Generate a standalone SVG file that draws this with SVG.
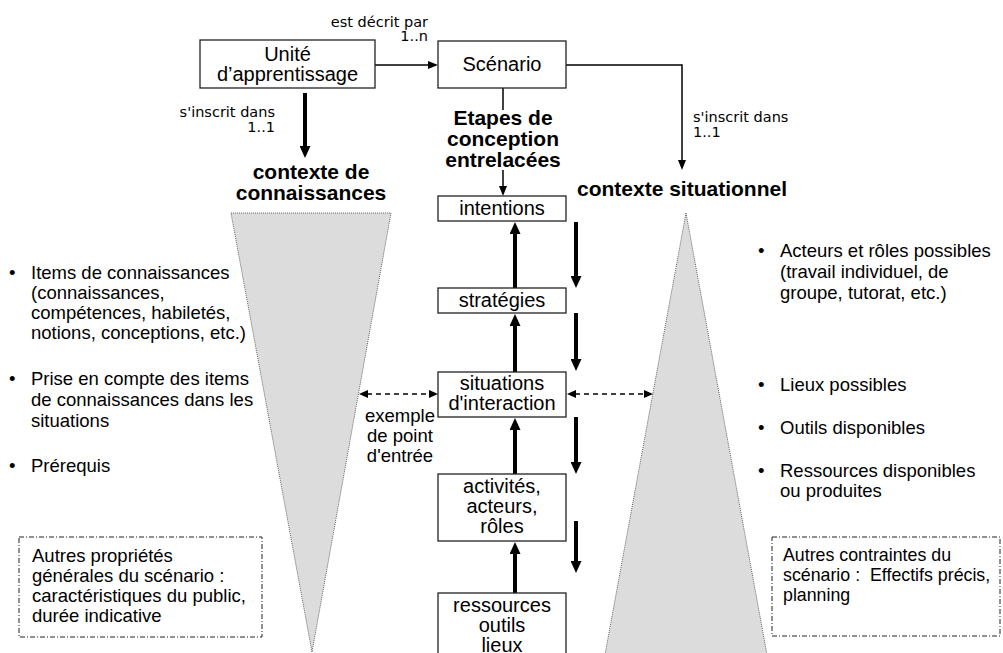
<svg xmlns="http://www.w3.org/2000/svg" width="1003" height="653" viewBox="0 0 1003 653">
<style>
  .box { fill: #ffffff; stroke: #222; stroke-width: 1.3; }
  .lbl { font-family: "Liberation Sans", Arial, sans-serif; font-size: 20px; fill: #000; text-anchor: middle; }
  .bold { font-family: "Liberation Sans", Arial, sans-serif; font-size: 21px; font-weight: bold; fill: #000; text-anchor: middle; }
  .small { font-family: "DejaVu Sans", Verdana, sans-serif; font-size: 14.5px; fill: #000; }
  .body { font-family: "Liberation Sans", Arial, sans-serif; font-size: 18.5px; fill: #000; }
  .body2 { font-family: "Liberation Sans", Arial, sans-serif; font-size: 17.8px; fill: #000; }
  .tri { fill: #dcdcdc; stroke: #666; stroke-width: 1; stroke-dasharray: 1 1; }
  .dd { fill: none; stroke: #222; stroke-width: 1; stroke-dasharray: 5 2 1 2; }
  .thin { fill: none; stroke: #000; stroke-width: 1.5; }
  .thick { fill: none; stroke: #000; stroke-width: 4; }
  .dash { fill: none; stroke: #000; stroke-width: 1.5; stroke-dasharray: 5 4; }
</style>
<defs>
  <marker id="ah" markerUnits="userSpaceOnUse" markerWidth="10" markerHeight="8" refX="1" refY="4" orient="auto">
    <path d="M0,0 L10,4 L0,8 z" fill="#000"/>
  </marker>
  <marker id="ahB" markerUnits="userSpaceOnUse" markerWidth="12" markerHeight="11" refX="2" refY="5.5" orient="auto">
    <path d="M0,0 L12,5.5 L0,11 z" fill="#000"/>
  </marker>
  <marker id="ahD" markerUnits="userSpaceOnUse" markerWidth="9" markerHeight="8" refX="1" refY="4" orient="auto-start-reverse">
    <path d="M0,0 L9,4 L0,8 z" fill="#000"/>
  </marker>
</defs>
<rect width="1003" height="653" fill="#ffffff"/>

<g id="contexte-connaissances">
  <polygon class="tri" points="231,213 391,213 312,652"/>
  <text class="bold" x="311" y="179">contexte de</text>
  <text class="bold" x="311" y="200">connaissances</text>
</g>

<g id="contexte-situationnel">
  <polygon class="tri" points="686,213 768,660 604,660"/>
  <text class="bold" x="682" y="196">contexte situationnel</text>
</g>

<g id="connectors">
  <line class="thin" x1="375" y1="65" x2="429" y2="65" marker-end="url(#ah)"/>
  <path class="thin" d="M566,65 H682 V161" marker-end="url(#ah)"/>
  <line class="thick" x1="305" y1="93" x2="305" y2="148" marker-end="url(#ahB)"/>
  <line class="thin" x1="503" y1="88" x2="503" y2="110"/>
  <line class="thin" x1="503" y1="170" x2="503" y2="187" marker-end="url(#ah)"/>
  <line class="thick" x1="515" y1="288" x2="515" y2="232" marker-end="url(#ahB)"/>
  <line class="thick" x1="515" y1="372" x2="515" y2="324" marker-end="url(#ahB)"/>
  <line class="thick" x1="515" y1="474" x2="515" y2="428" marker-end="url(#ahB)"/>
  <line class="thick" x1="515" y1="593" x2="515" y2="552" marker-end="url(#ahB)"/>
  <line class="thick" x1="576" y1="222" x2="576" y2="278" marker-end="url(#ahB)"/>
  <line class="thick" x1="576" y1="313" x2="576" y2="361" marker-end="url(#ahB)"/>
  <line class="thick" x1="576" y1="417" x2="576" y2="464" marker-end="url(#ahB)"/>
  <line class="thick" x1="576" y1="521" x2="576" y2="563" marker-end="url(#ahB)"/>
  <line class="dash" x1="367" y1="394" x2="430" y2="394" marker-start="url(#ahD)" marker-end="url(#ahD)"/>
  <line class="dash" x1="575" y1="394" x2="645" y2="394" marker-start="url(#ahD)" marker-end="url(#ahD)"/>
</g>

<g id="labels">
  <text class="small" x="428" y="27" text-anchor="end">est décrit par</text>
  <text class="small" x="428" y="41" text-anchor="end">1..n</text>
  <text class="small" x="275" y="117" text-anchor="end">s'inscrit dans</text>
  <text class="small" x="275" y="132" text-anchor="end">1..1</text>
  <text class="small" x="693" y="122">s'inscrit dans</text>
  <text class="small" x="693" y="137">1..1</text>
  <text class="bold" x="503" y="125">Etapes de</text>
  <text class="bold" x="503" y="146">conception</text>
  <text class="bold" x="503" y="167">entrelacées</text>
  <text class="body" x="400" y="422" text-anchor="middle">exemple</text>
  <text class="body" x="400" y="442" text-anchor="middle">de point</text>
  <text class="body" x="400" y="462" text-anchor="middle">d'entrée</text>
</g>

<g id="unite">
  <rect class="box" x="200" y="40" width="175" height="48"/>
  <text class="lbl" x="287.5" y="61">Unité</text>
  <text class="lbl" x="287.5" y="81">d’apprentissage</text>
</g>

<g id="scenario">
  <rect class="box" x="438" y="41" width="128" height="47"/>
  <text class="lbl" x="502" y="71">Scénario</text>
</g>

<g id="intentions">
  <rect class="box" x="438" y="196" width="128" height="25"/>
  <text class="lbl" x="502" y="215">intentions</text>
</g>

<g id="strategies">
  <rect class="box" x="438" y="288" width="128" height="25"/>
  <text class="lbl" x="502" y="307">stratégies</text>
</g>

<g id="situations">
  <rect class="box" x="438" y="372" width="128" height="45"/>
  <text class="lbl" x="502" y="390">situations</text>
  <text class="lbl" x="502" y="410">d'interaction</text>
</g>

<g id="activites">
  <rect class="box" x="438" y="474" width="128" height="67"/>
  <text class="lbl" x="502" y="493">activités,</text>
  <text class="lbl" x="502" y="513">acteurs,</text>
  <text class="lbl" x="502" y="533">rôles</text>
</g>

<g id="ressources">
  <rect class="box" x="438" y="593" width="128" height="80"/>
  <text class="lbl" x="502" y="612">ressources</text>
  <text class="lbl" x="502" y="632">outils</text>
  <text class="lbl" x="502" y="652">lieux</text>
</g>

<g id="liste-connaissances">
  <text class="body" x="9" y="279">•</text>
  <text class="body" x="31" y="279">Items de connaissances</text>
  <text class="body" x="31" y="299">(connaissances,</text>
  <text class="body" x="31" y="319">compétences, habiletés,</text>
  <text class="body" x="31" y="339">notions, conceptions, etc.)</text>
  <text class="body" x="9" y="385">•</text>
  <text class="body" x="31" y="385">Prise en compte des items</text>
  <text class="body" x="31" y="406">de connaissances dans les</text>
  <text class="body" x="31" y="427">situations</text>
  <text class="body" x="9" y="472">•</text>
  <text class="body" x="31" y="472">Prérequis</text>
</g>

<g id="liste-situationnel">
  <text class="body" x="758" y="257">•</text>
  <text class="body" x="780" y="257">Acteurs et rôles possibles</text>
  <text class="body" x="780" y="278">(travail individuel, de</text>
  <text class="body" x="780" y="299">groupe, tutorat, etc.)</text>
  <text class="body" x="758" y="391">•</text>
  <text class="body" x="780" y="391">Lieux possibles</text>
  <text class="body" x="758" y="434">•</text>
  <text class="body" x="780" y="434">Outils disponibles</text>
  <text class="body" x="758" y="477">•</text>
  <text class="body" x="780" y="477">Ressources disponibles</text>
  <text class="body" x="780" y="497">ou produites</text>
</g>

<g id="autres-proprietes">
  <rect class="dd" x="19" y="537" width="243" height="100"/>
  <text class="body" x="32" y="562">Autres propriétés</text>
  <text class="body" x="32" y="582">générales du scénario :</text>
  <text class="body" x="32" y="602">caractéristiques du public,</text>
  <text class="body" x="32" y="622">durée indicative</text>
</g>

<g id="autres-contraintes">
  <rect class="dd" x="772" y="537" width="228" height="99"/>
  <text class="body2" x="783" y="561">Autres contraintes du</text>
  <text class="body2" x="783" y="581">scénario :&#160; Effectifs précis,</text>
  <text class="body2" x="783" y="601">planning</text>
</g>
</svg>
